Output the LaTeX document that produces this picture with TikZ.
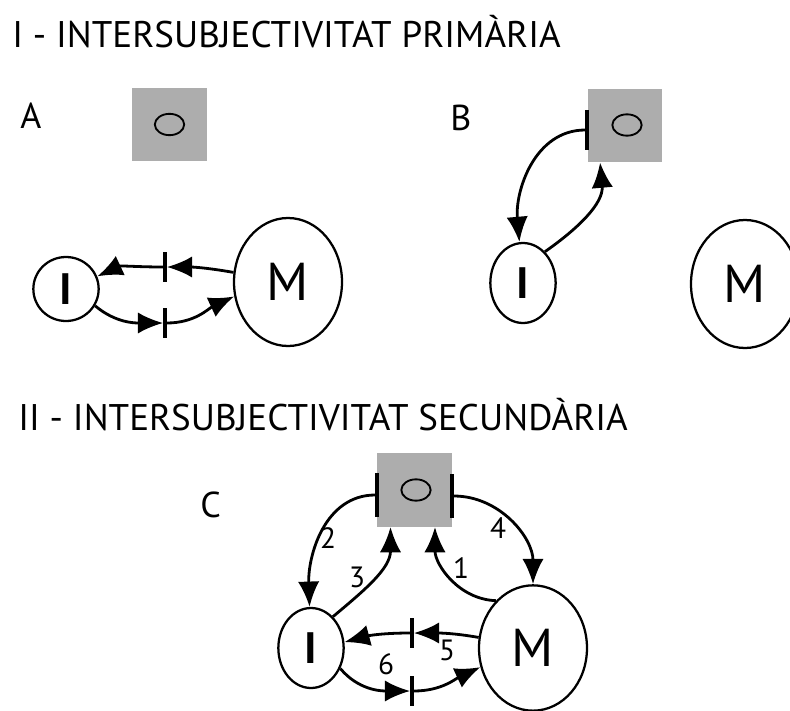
\documentclass[tikz,border=0pt]{standalone}
\usepackage{fontspec}
\setmainfont{PT Sans}
\usetikzlibrary{positioning,shapes.geometric,arrows.meta}
\tikzset{
  obj/.style={fill=black!32, minimum width=56pt, minimum height=55pt, inner sep=0pt},
  eye/.style={draw, ellipse, line width=1.4pt, minimum width=22pt, minimum height=16pt, inner sep=0pt},
  agent/.style={draw, ellipse, line width=1.7pt, inner sep=0pt},
  kid/.style={agent, minimum width=49pt, font=\fontsize{33}{33}\selectfont\bfseries},
  mom/.style={agent, minimum width=81pt, minimum height=96pt, font=\fontsize{40}{40}\selectfont},
  tick/.style={fill=black, inner sep=0pt, minimum width=2.3pt, minimum height=22pt},
  arr/.style={line width=2.1pt, -{Latex[length=19pt,width=16pt]}},
  title/.style={anchor=base west, inner sep=0pt, font=\fontsize{27.8}{28}\selectfont},
  panel/.style={anchor=base west, inner sep=0pt, font=\fontsize{27}{27}\selectfont},
  num/.style={inner sep=0pt, font=\fontsize{22}{22}\selectfont}
}
\begin{document}
\begin{tikzpicture}[x=0.75pt, y=-0.75pt]
  \useasboundingbox (0,0) rectangle (790,711);

  \node[title] (TitleI) at (12,47) {I - INTERSUBJECTIVITAT PRIMÀRIA};
  \node[title] (TitleII) at (18,430) {II - INTERSUBJECTIVITAT SECUNDÀRIA};

  % A: face to face
  \node[panel] (A) at (20,128) {A};
  \node[obj] (ObjA) at (169.5,124.5) {};
  \node[eye] (EyeA) at (ObjA) {};
  \node[kid, minimum height=48pt] (IA) at (66,289) {I};
  \node[mom] (MA) at (288,282) {M};
  \node[tick] (TA1) at (165,267) {};
  \node[tick] (TA2) at (165,323) {};
  \draw[arr] (MA.170) to[out=170,in=0] (TA1);
  \draw[arr] (TA1) to[out=180,in=25] (IA.22);
  \draw[arr] (IA.-30) to[out=-40,in=180] (TA2);
  \draw[arr] (TA2) to[out=0,in=205] (MA.195);

  % B: child and object
  \node[panel] (B) at (450,130) {B};
  \node[obj] (ObjB) at (625,125.5) {};
  \node[eye] (EyeB) at (627,125) {};
  \node[tick, minimum height=30pt] (TB) at (587,130) {};
  \node[kid, minimum height=60pt] (IB) at (523,283) {I};
  \node[mom] (MB) at (745,284) {M};
  \draw[arr] (TB) to[out=180,in=95] (IB.95);
  \draw[arr] (IB.55) to[out=35,in=-85] (ObjB.236);

  % C: triangle
  \node[panel] (C) at (200,517) {C};
  \node[obj] (ObjC) at (414.5,490) {};
  \node[eye] (EyeC) at (416,490) {};
  \node[tick, minimum height=33pt] (TC1) at (377,495) {};
  \node[tick, minimum height=33pt] (TC2) at (452,496) {};
  \node[kid, minimum height=60pt] (IC) at (311,648) {I};
  \node[mom, minimum height=94pt] (MC) at (533,648) {M};
  \node[tick] (TC3) at (412,633) {};
  \node[tick] (TC4) at (412,691) {};
  \draw[arr] (TC1) to[out=180,in=92] (IC.92);
  \draw[arr] (IC.55) to[out=40,in=-90] (ObjC.237);
  \draw[arr] (MC.128) to[out=178,in=-90] (ObjC.299);
  \draw[arr] (TC2) to[out=0,in=90] (MC.north);
  \draw[arr] (MC.169) to[out=170,in=0] (TC3);
  \draw[arr] (TC3) to[out=180,in=15] (IC.10);
  \draw[arr] (IC.-35) to[out=-50,in=180] (TC4);
  \draw[arr] (TC4) to[out=0,in=205] (MC.200);
  \node[num] (n1) at (461,568) {1};
  \node[num] (n2) at (328,538) {2};
  \node[num] (n3) at (357,577) {3};
  \node[num] (n4) at (498,528) {4};
  \node[num] (n5) at (447,650) {5};
  \node[num] (n6) at (386,664) {6};
\end{tikzpicture}
\end{document}
